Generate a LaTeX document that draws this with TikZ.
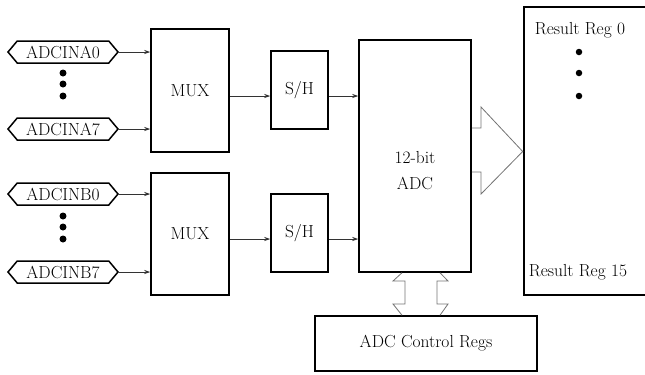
\documentclass[tikz,border=0pt]{standalone}
\usetikzlibrary{shapes.symbols,arrows.meta}
\begin{document}
\begin{tikzpicture}[x=1bp,y=-1bp,
  box/.style={draw,line width=1.5bp,inner sep=0,rectangle},
  hex/.style={draw,line width=1.5bp,shape=signal,signal to=west and east,signal pointer angle=100,minimum width=110bp,minimum height=22bp,inner sep=0},
  arr/.style={-{Stealth[length=6bp,width=4bp]},line width=0.8bp,draw=black!80},
  bus/.style={line width=0.8bp,draw=black!55,line join=miter},
  dot/.style={circle,fill,inner sep=0,minimum size=7bp},
  font=\fontsize{17.5}{21}\selectfont]
\useasboundingbox (0,0) rectangle (645,374);
% inputs
\node[hex] (a0) at (63,52) {ADCINA0};
\node[hex] (a7) at (63,129) {ADCINA7};
\node[hex] (b0) at (63,194) {ADCINB0};
\node[hex] (b7) at (63,272) {ADCINB7};
\foreach \y/\n in {73/1,84/2,96/3} \node[dot] (da\n) at (63,\y) {};
\foreach \y/\n in {216/1,227/2,239/3} \node[dot] (db\n) at (63,\y) {};
% MUX
\node[box,minimum width=78bp,minimum height=123bp] (muxa) at (190,90.5) {MUX};
\node[box,minimum width=78bp,minimum height=122bp] (muxb) at (190,234) {MUX};
% S/H
\node[box,minimum width=57bp,minimum height=78bp] (sha) at (299.5,90) {S/H};
\node[box,minimum width=57bp,minimum height=78bp] (shb) at (299.5,233) {S/H};
% ADC
\node[box,minimum width=112bp,minimum height=232bp] (adc) at (415,156) {};
\node[align=center,inner sep=0] (adct) at (415,171) {12-bit\\[5bp]ADC};
% result
\node[draw,line width=2.6bp,rectangle,inner sep=0,minimum width=140bp,minimum height=288bp] (res) at (594,151) {};
\node[inner sep=0] (r0) at (580,30) {Result Reg 0};
\foreach \y/\n in {52/1,73/2,96/3} \node[dot,minimum size=6.5bp] (dr\n) at (579,\y) {};
\node[inner sep=0] (r15) at (578,272) {Result Reg 15};
% control
\node[box,minimum width=222bp,minimum height=55bp] (ctl) at (426,343.5) {ADC Control Regs};
% connectors
\draw[arr] (a0.east) -- (a0.east -| muxa.west);
\draw[arr] (a7.east) -- (a7.east -| muxa.west);
\draw[arr] (b0.east) -- (b0.east -| muxb.west);
\draw[arr] (b7.east) -- (b7.east -| muxb.west);
\draw[arr] (muxa.east |- 0,96) -- (sha.west |- 0,96);
\draw[arr] (sha.east |- 0,96) -- (adc.west |- 0,96);
\draw[arr] (muxb.east |- 0,239) -- (shb.west |- 0,239);
\draw[arr] (shb.east |- 0,239) -- (adc.west |- 0,239);
% big data arrow
\draw[bus] (adc.east |- 0,128) -- (481,128) -- (481,107) -- (res.west |- 0,151.5) -- (481,194) -- (481,172) -- (adc.east |- 0,172);
% control buses
\draw[bus] (adc.south -| 402,0) -- (393,281) -- (405,281) -- (405,304) -- (393,304) -- (ctl.north -| 402,0);
\draw[bus] (adc.south -| 440,0) -- (448,281) -- (437,281) -- (437,304) -- (448,304) -- (ctl.north -| 440,0);
\end{tikzpicture}
\end{document}
